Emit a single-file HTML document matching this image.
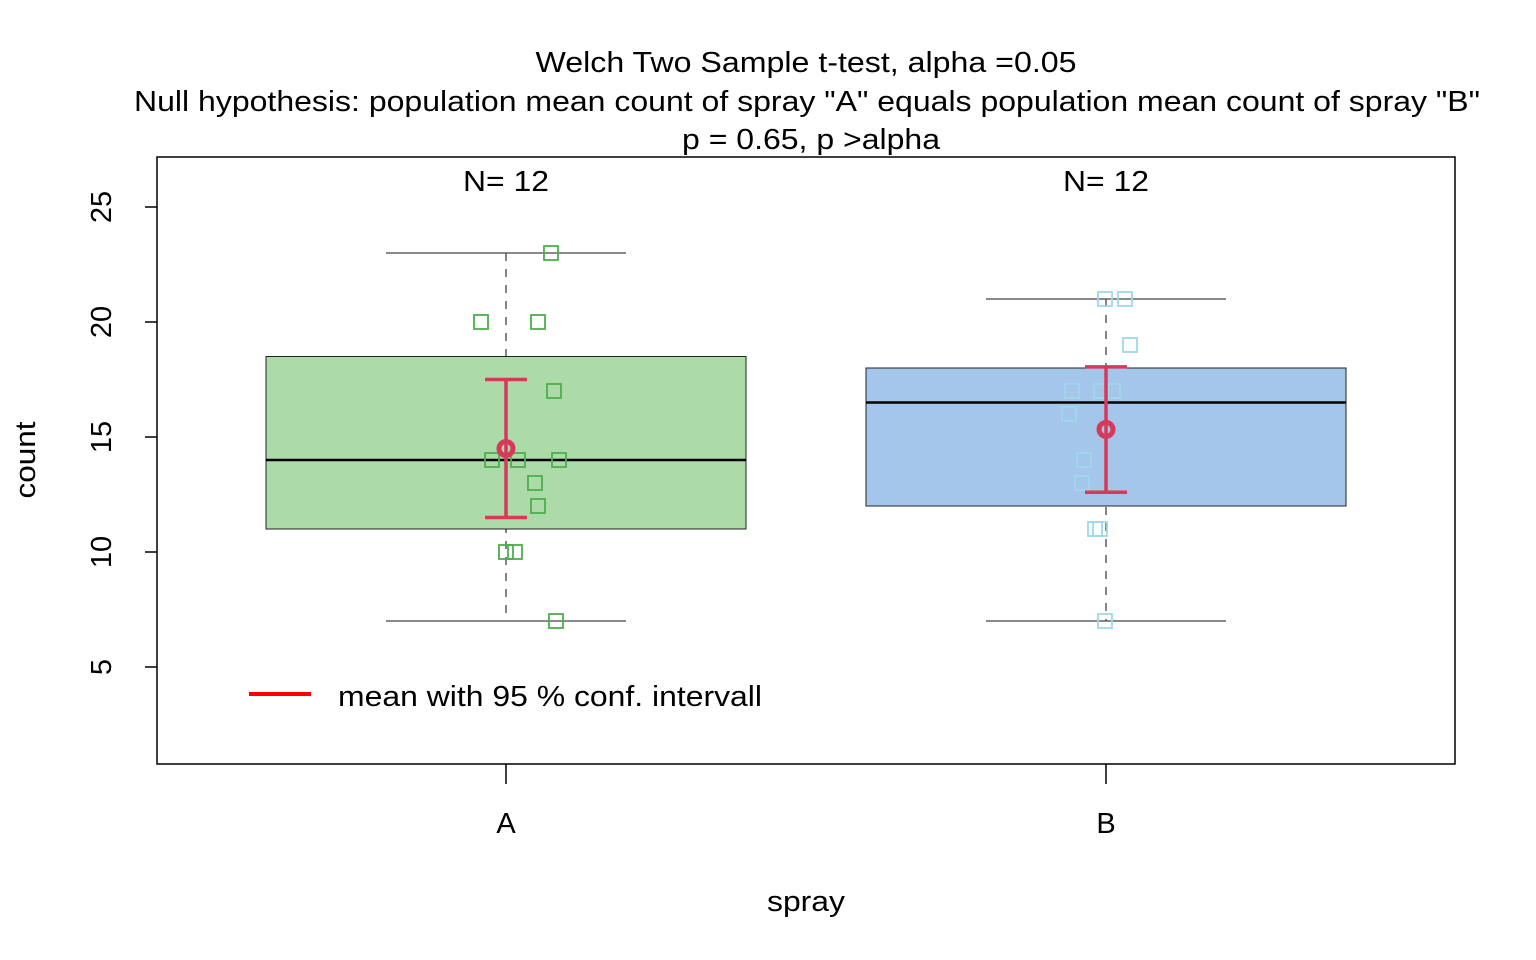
<!DOCTYPE html>
<html><head><meta charset="utf-8"><style>
body{margin:0;background:#fff}
svg{display:block;font-family:"Liberation Sans",Arial,sans-serif}
</style></head><body>
<svg id="chart" width="1536" height="960">
<g font-size="29" text-anchor="middle" fill="#000">
<text x="806" y="72" textLength="541" lengthAdjust="spacingAndGlyphs">Welch Two Sample t-test, alpha =0.05</text>
<text x="807" y="111" textLength="1346" lengthAdjust="spacingAndGlyphs">Null hypothesis: population mean count of spray "A" equals population mean count of spray "B"</text>
<text x="811" y="149" textLength="258" lengthAdjust="spacingAndGlyphs">p = 0.65, p &gt;alpha</text>
</g>
<rect x="157" y="157" width="1298" height="607" fill="none" stroke="#000" stroke-width="1.5"/>
<text x="806" y="911" font-size="29" text-anchor="middle" textLength="78" lengthAdjust="spacingAndGlyphs">spray</text>
<text transform="translate(35,460) rotate(-90)" font-size="29" text-anchor="middle" textLength="77" lengthAdjust="spacingAndGlyphs">count</text>
<g id="marks"></g>
<g>
<line x1="249" y1="694" x2="311" y2="694" stroke="#ff0000" stroke-width="4"/>
<text x="338" y="706" font-size="29" textLength="424" lengthAdjust="spacingAndGlyphs">mean with 95 % conf. intervall</text>
</g>
</svg>
<script>
const categories=["A","B"];
const q1=[11,12];
const medians=[14,16.5];
const q3=[18.5,18];
const whiskLo=[7,7];
const whiskHi=[23,21];
const means=[14.5,15.33];
const ciLo=[11.5,12.6];
const ciHi=[17.5,18.05];
const counts=[12,12];
const ptsA=[20,20,23,17,14,14,14,13,12,10,10,7];
const ptsB=[21,21,19,17,17,17,16,14,13,11,11,7];
const jitA=[-25,32,45,48,-14,12,53,29,32,0,9,50];
const jitB=[-1,19,24,-34,-5,7,-37,-22,-24,-11,-6,-1];
const yTicks=[5,10,15,20,25];
const fills=["#acdba9","#a5c6eb"];
const ptCols=["#4daf4a","#9fd8ea"];
const NS="http://www.w3.org/2000/svg";
const y=v=>667-(v-5)*23;
const x=i=>506+i*600;
const g=document.getElementById('marks');
function mk(t,a){const e=document.createElementNS(NS,t);for(const k in a)e.setAttribute(k,a[k]);g.appendChild(e);return e;}
yTicks.forEach(v=>{
 const l=mk('line',{x1:145,x2:157,y1:y(v),y2:y(v),stroke:'#000','stroke-width':1.5});
 
 
 const t=mk('text',{transform:`translate(111,${y(v)}) rotate(-90)`,'font-size':29,'text-anchor':'middle'});
 t.textContent=v;
 
 
});
categories.forEach((c,i)=>{
 const cx=x(i);
 const tk=mk('line',{x1:cx,x2:cx,y1:764,y2:784,stroke:'#000','stroke-width':1.5});
 
 
 const tl=mk('text',{x:cx,y:833,'font-size':29,'text-anchor':'middle'});tl.textContent=c;
 
 
 const w=mk('line',{x1:cx,x2:cx,y1:y(whiskHi[i]),y2:y(whiskLo[i]),stroke:'#444','stroke-dasharray':'8,8','stroke-width':1.3});
 
 
 [whiskHi[i],whiskLo[i]].forEach(v=>{const cp=mk('line',{x1:cx-120,x2:cx+120,y1:y(v),y2:y(v),stroke:'#444','stroke-width':1.3});
  
  });
 const b=mk('rect',{x:cx-240,width:480,y:y(q3[i]),height:y(q1[i])-y(q3[i]),fill:fills[i],stroke:'#222','stroke-width':1});
 
 
 const m=mk('line',{x1:cx-240,x2:cx+240,y1:y(medians[i]),y2:y(medians[i]),stroke:'#000','stroke-width':2.5});
 
 
 const pts=i?ptsB:ptsA, jit=i?jitB:jitA;
 pts.forEach((v,k)=>{const p=mk('rect',{x:cx+jit[k]-7,y:y(v)-7,width:14,height:14,fill:'none',stroke:ptCols[i],'stroke-width':1.8});
  
  });
 const col='#d6395a';
 const ci=mk('line',{x1:cx,x2:cx,y1:y(ciHi[i]),y2:y(ciLo[i]),stroke:col,'stroke-width':3.5});
 
 
 [ciHi[i],ciLo[i]].forEach(v=>{const cc=mk('line',{x1:cx-21,x2:cx+21,y1:y(v),y2:y(v),stroke:col,'stroke-width':3.5});
  
  });
 const mc=mk('circle',{cx:cx,cy:y(means[i]),r:7,fill:'none',stroke:col,'stroke-width':5});
 
 
 const n=mk('text',{x:cx,y:191,'font-size':29,'text-anchor':'middle',textLength:86,lengthAdjust:'spacingAndGlyphs'});n.textContent='N= '+counts[i];
 
 
});
</script>
</body></html>
